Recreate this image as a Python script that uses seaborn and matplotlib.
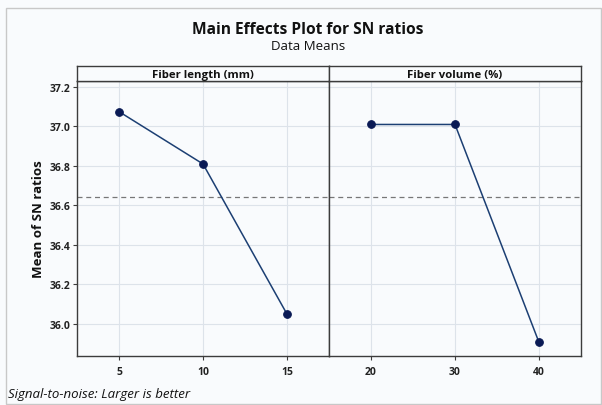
import matplotlib
matplotlib.use("Agg")
import matplotlib.pyplot as plt
import seaborn as sns
import pandas as pd
from matplotlib.patches import Rectangle

sns.set_theme(style="white")
plt.rcParams['font.family'] = ['Open Sans', 'DejaVu Sans']

# Data
length_levels = ["5", "10", "15"]
length_sn = [37.075, 36.81, 36.05]
volume_levels = ["20", "30", "40"]
volume_sn = [37.01, 37.01, 35.907]
overall_mean = 36.644
y_ticks = [36.0, 36.2, 36.4, 36.6, 36.8, 37.0, 37.2]
y_tick_labels = ["36.0", "36.2", "36.4", "36.6", "36.8", "37.0", "37.2"]
panel_titles = ["Fiber length (mm)", "Fiber volume (%)"]

W, H = 602, 406
bg = "#f9fbfd"
fig = plt.figure(figsize=(W / 100, H / 100), dpi=100, facecolor=bg)

def fx(px):
    return px / W

def fy(py):
    return 1 - py / H

# outer frame
fig.patches.append(Rectangle((fx(6), fy(405)), fx(595), (405 - 9) / H, transform=fig.transFigure,
                             fill=False, edgecolor="#c8c8c8", lw=1.0))

left, mid, right = 77, 329, 581
top, bottom, strip_top = 82, 357, 67
edge = "#3c3c3c"
line_col = "#1c3f73"
mark_col = "#0a1a55"

panels = [
    (left, mid, length_levels, length_sn, panel_titles[0]),
    (mid, right, volume_levels, volume_sn, panel_titles[1]),
]

for i, (x0, x1, levels, vals, title) in enumerate(panels):
    ax = fig.add_axes([fx(x0), fy(bottom), fx(x1 - x0), (bottom - top) / H])
    ax.set_facecolor(bg)
    df = pd.DataFrame({"level": levels, "sn": vals})
    for t in y_ticks:
        ax.axhline(t, color="#dde3ea", lw=0.8, zorder=0)
    for k in range(len(levels)):
        ax.axvline(k, color="#dde3ea", lw=0.8, zorder=0)
    ax.axhline(overall_mean, color="#777777", lw=0.9, ls=(0, (4, 3)), zorder=1)
    sns.lineplot(data=df, x=range(len(levels)), y="sn", ax=ax, color=line_col, lw=1.1,
                 marker="o", markersize=5.5, markerfacecolor=mark_col, markeredgecolor=mark_col,
                 zorder=3)
    ax.set_xlim(-0.5, len(levels) - 0.5)
    ax.set_ylim(35.838, 37.23)
    ax.set_xticks(range(len(levels)))
    ax.set_xticklabels(levels, fontsize=7.5, fontweight="bold", color="#222222")
    ax.set_xlabel("")
    ax.set_ylabel("")
    ax.tick_params(axis="x", length=3, width=0.8, color=edge, pad=4, direction="out", bottom=True)
    if i == 0:
        ax.set_yticks(y_ticks)
        ax.set_yticklabels(y_tick_labels, fontsize=7.5, fontweight="bold", color="#222222")
        ax.tick_params(axis="y", length=3, width=0.8, color=edge, pad=2, direction="out", left=True)
        ax.set_ylabel("Mean of SN ratios", fontsize=9.5, fontweight="bold", color="#111111", labelpad=3)
    else:
        ax.set_yticks(y_ticks)
        ax.set_yticklabels([])
        ax.tick_params(axis="y", length=0)
    for s in ax.spines.values():
        s.set_color(edge)
        s.set_linewidth(1.0)
    # strip
    sax = fig.add_axes([fx(x0), fy(top), fx(x1 - x0), (top - strip_top) / H])
    sax.set_facecolor(bg)
    sax.set_xticks([])
    sax.set_yticks([])
    for s in sax.spines.values():
        s.set_color(edge)
        s.set_linewidth(1.0)
    sax.text(0.5, 0.45, title, transform=sax.transAxes, ha="center", va="center",
             fontsize=8.2, fontweight="bold", color="#111111")

fig.text(fx(308), fy(30), "Main Effects Plot for SN ratios", ha="center", va="center",
         fontsize=11.2, fontweight="bold", color="#111111")
fig.text(fx(308), fy(47), "Data Means", ha="center", va="center", fontsize=9.5, color="#111111")
fig.text(fx(8), fy(395), "Signal-to-noise: Larger is better", ha="left", va="center",
         fontsize=9.5, style="italic", color="#111111")

fig.savefig("out.png", dpi=100, facecolor=bg)
